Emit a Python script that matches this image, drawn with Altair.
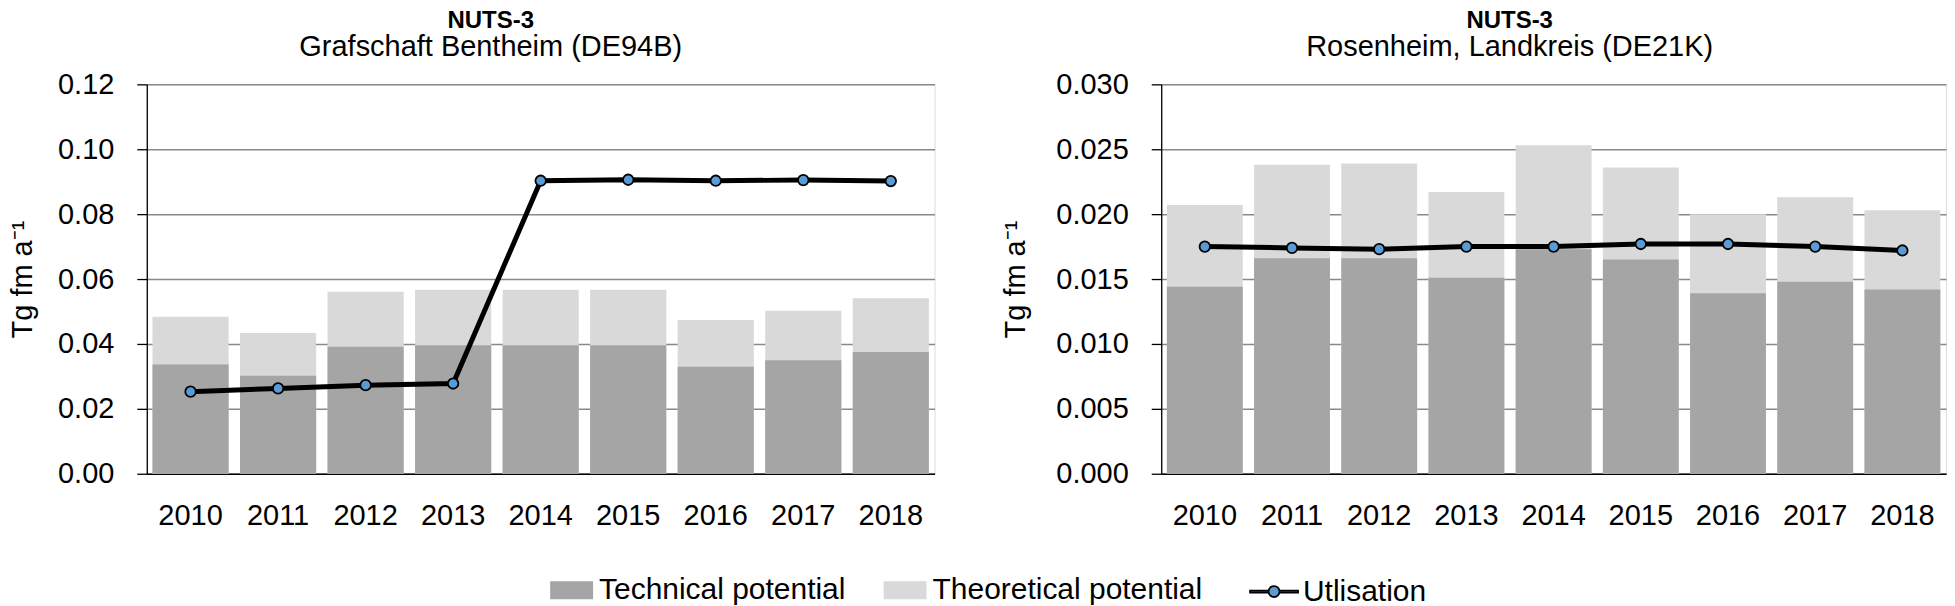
import altair as alt
import pandas as pd

years = ["2010", "2011", "2012", "2013", "2014", "2015", "2016", "2017", "2018"]

# Grafschaft Bentheim (DE94B)
bent_theoretical = [0.0484, 0.0434, 0.0561, 0.0567, 0.0567, 0.0567, 0.0474, 0.0502, 0.0541]
bent_technical = [0.0337, 0.0302, 0.0391, 0.0396, 0.0396, 0.0396, 0.0330, 0.0350, 0.0375]
bent_utilisation = [0.0253, 0.0263, 0.0273, 0.0278, 0.0903, 0.0906, 0.0903, 0.0905, 0.0902]

# Rosenheim, Landkreis (DE21K)
rosen_theoretical = [0.0207, 0.0238, 0.0239, 0.0217, 0.0253, 0.0236, 0.0200, 0.0213, 0.0203]
rosen_technical = [0.0144, 0.0166, 0.0166, 0.0151, 0.0173, 0.0165, 0.0139, 0.0148, 0.0142]
rosen_utilisation = [0.0175, 0.0174, 0.0173, 0.0175, 0.0175, 0.0177, 0.0177, 0.0175, 0.0172]

series_names = ["Technical potential", "Theoretical potential"]
line_name = "Utlisation"

FONT = "Liberation Sans"
TECH_COL = "#a5a5a5"
THEO_COL = "#d9d9d9"
MARK_COL = "#5b9bd5"

BAR_SYMBOL = "M-1,-0.42H1V0.42H-1Z"
LINE_SYMBOL = ("M-1,-0.042H-0.23V0.042H-1Z M0.23,-0.042H1V0.042H0.23Z "
               "M0.23,0A0.23,0.23,0,1,1,-0.23,0A0.23,0.23,0,1,1,0.23,0Z")


def panel(theo, tech, util, ymax, step, fmt, subtitle, width, title_pad, dx):
    theo_df = pd.DataFrame({"year": years, "value": theo, "series": series_names[1]})
    tech_df = pd.DataFrame({"year": years, "value": tech, "series": series_names[0]})
    util_df = pd.DataFrame({"year": years, "value": util, "name": line_name})

    ticks = [round(i * step, 4) for i in range(int(round(ymax / step)) + 1)]

    x = alt.X("year:O", title=None,
              scale=alt.Scale(paddingInner=0.13, paddingOuter=0.065),
              axis=alt.Axis(labelAngle=0, ticks=False, labelPadding=28,
                            labelFont=FONT, labelFontSize=29, labelColor="black",
                            domainColor="black", domainWidth=1.3, grid=False))
    y_scale = alt.Scale(domain=[0, ymax], nice=False)
    y_axis = alt.Axis(values=ticks, format=fmt, title="Tg fm a⁻¹",
                      titleFont=FONT, titleFontSize=29, titleFontWeight="normal",
                      titleColor="black", titlePadding=title_pad,
                      labelFont=FONT, labelFontSize=29, labelColor="black",
                      labelPadding=23, tickSize=10, tickColor="black", tickWidth=1.3,
                      domainColor="black", domainWidth=1.3,
                      grid=True, gridColor="#898989", gridWidth=1.5)

    fill_enc = alt.Fill("series:N",
                        scale=alt.Scale(domain=series_names, range=[TECH_COL, THEO_COL]),
                        legend=alt.Legend(orient="none", legendX=404, legendY=485,
                                          direction="horizontal", title=None,
                                          symbolType=BAR_SYMBOL, symbolSize=1849,
                                          symbolStrokeWidth=0,
                                          labelFont=FONT, labelFontSize=30,
                                          labelColor="black", labelLimit=1000,
                                          labelOffset=6, columnPadding=38, padding=0))

    theo_bars = alt.Chart(theo_df).mark_bar().encode(
        x=x, y=alt.Y("value:Q", scale=y_scale, axis=y_axis), fill=fill_enc)
    tech_bars = alt.Chart(tech_df).mark_bar().encode(
        x=x, y=alt.Y("value:Q", scale=y_scale, axis=y_axis), fill=fill_enc)

    line = alt.Chart(util_df).mark_line(color="black", strokeWidth=5).encode(
        x=x, y=alt.Y("value:Q", scale=y_scale, axis=y_axis))

    points = alt.Chart(util_df).mark_point(
        filled=True, fill=MARK_COL, size=110, strokeWidth=1.8, opacity=1).encode(
        x=x, y=alt.Y("value:Q", scale=y_scale, axis=y_axis),
        stroke=alt.Stroke("name:N", scale=alt.Scale(domain=[line_name], range=["black"]),
                          legend=alt.Legend(orient="none", legendX=1104, legendY=483,
                                            title=None, symbolType=LINE_SYMBOL,
                                            symbolSize=2304, symbolStrokeWidth=1.8,
                                            symbolFillColor=MARK_COL,
                                            labelFont=FONT, labelFontSize=30,
                                            labelColor="black", labelLimit=1000,
                                            labelOffset=4, padding=0)))

    return alt.layer(theo_bars, tech_bars, line, points).properties(
        width=width, height=390,
        title=alt.TitleParams(text="NUTS-3", subtitle=subtitle, anchor="middle",
                              font=FONT, fontSize=24, fontWeight="bold", color="black",
                              subtitleFont=FONT, subtitleFontSize=29,
                              subtitleColor="black", subtitlePadding=0,
                              offset=8, dx=dx))


left = panel(bent_theoretical, bent_technical, bent_utilisation, 0.12, 0.02, ".2f",
             "Grafschaft Bentheim (DE94B)", 789, 20, -50)
right = panel(rosen_theoretical, rosen_technical, rosen_utilisation, 0.03, 0.005, ".3f",
              "Rosenheim, Landkreis (DE21K)", 786, 25, -44)

chart = alt.hconcat(left, right, spacing=65).resolve_scale(
    x="independent", y="independent", fill="shared", stroke="shared"
).properties(padding=0).configure_view(stroke=None).configure(background="white")

chart.save("out.html", embed_options={"renderer": "svg", "actions": False})
